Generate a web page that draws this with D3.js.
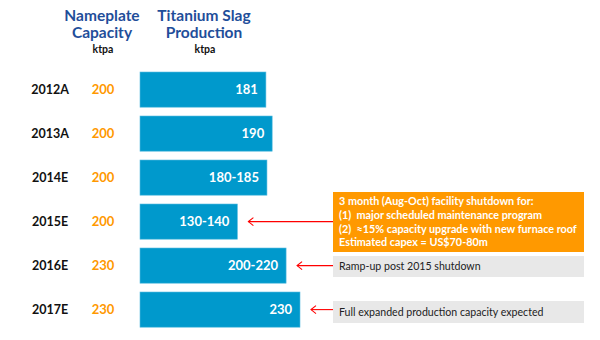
<!DOCTYPE html>
<html>
<head>
<meta charset="utf-8">
<script src="https://cdn.jsdelivr.net/npm/d3@7"></script>
<style>
  html, body { margin: 0; padding: 0; background: #fff; }
  svg { display: block; font-family: Lato, "Open Sans", sans-serif; }
  .note { white-space: pre; }
</style>
</head>
<body>
<svg id="chart" width="600" height="340"></svg>
<script>
// Titanium slag production vs nameplate capacity, ktpa
const years = ["2012A", "2013A", "2014E", "2015E", "2016E", "2017E"];
const capacity = [200, 200, 200, 200, 230, 230];
const production = [181, 190, 182.5, 140, 210, 230];
const productionLabels = ["181", "190", "180-185", "130-140", "200-220", "230"];

// Notes attached to individual years
const noteYears = ["2015E", "2016E", "2017E"];
const noteLines = [
  ["3 month (Aug-Oct) facility shutdown for:",
   "(1)  major scheduled maintenance program",
   "(2)  \u224815% capacity upgrade with new furnace roof",
   "Estimated capex = US$70-80m"],
  ["Ramp-up post 2015 shutdown"],
  ["Full expanded production capacity expected"]
];
const noteKinds = ["highlight", "plain", "plain"];

const svg = d3.select("#chart");

const BLUE = "#0099cc";
const ORANGE = "#ff9900";
const NAVY = "#1f4e9a";
const RED = "#ff0000";

const y = d3.scaleBand().domain(years).range([67.6, 331.6]).paddingInner(0.2).paddingOuter(0.1);
const x = d3.scaleLinear().domain([0, 230]).range([140, 300]);

// Column headers
const headers = [
  { cx: 102, lines: ["Nameplate", "Capacity"] },
  { cx: 204, lines: ["Titanium Slag", "Production"] }
];
headers.forEach(h => {
  h.lines.forEach((t, i) => {
    svg.append("text")
      .attr("x", h.cx).attr("y", 21 + i * 16.5)
      .attr("text-anchor", "middle")
      .attr("font-size", 15.5).attr("font-weight", 700)
      .attr("fill", NAVY).text(t);
  });
  svg.append("text")
    .attr("x", h.cx + 1).attr("y", 53)
    .attr("text-anchor", "middle")
    .attr("font-size", 10.5).attr("font-weight", 700)
    .attr("fill", "#111").text("ktpa");
});

const rows = svg.append("g").selectAll("g")
  .data(years.map((yr, i) => ({ yr, cap: capacity[i], val: production[i], lbl: productionLabels[i] })))
  .join("g");

// Year labels
rows.append("text")
  .attr("x", 50).attr("y", d => y(d.yr) + y.bandwidth() / 2)
  .attr("dy", "0.35em").attr("text-anchor", "middle")
  .attr("font-size", 12.5).attr("font-weight", 700).attr("fill", "#111")
  .text(d => d.yr);

// Nameplate capacity
rows.append("text")
  .attr("x", 103).attr("y", d => y(d.yr) + y.bandwidth() / 2)
  .attr("dy", "0.35em").attr("text-anchor", "middle")
  .attr("font-size", 13).attr("font-weight", 700).attr("fill", ORANGE)
  .text(d => d.cap);

// Production bars
rows.append("rect")
  .attr("x", x(0)).attr("y", d => y(d.yr))
  .attr("width", d => x(d.val) - x(0)).attr("height", y.bandwidth())
  .attr("fill", BLUE).attr("stroke", "#5bbde0").attr("stroke-width", 0.6);

rows.append("text")
  .attr("x", d => x(d.val) - 8).attr("y", d => y(d.yr) + y.bandwidth() / 2)
  .attr("dy", "0.36em").attr("text-anchor", "end")
  .attr("font-size", 13).attr("font-weight", 700).attr("fill", "#fff")
  .text(d => d.lbl);

// Annotation boxes with arrows pointing back at the bars
const boxX = 333, boxW = 251;
const boxes = [
  { top: 192, h: 60 },
  { top: 256, h: 21 },
  { top: 301, h: 22 }
];

noteYears.forEach((yr, i) => {
  const idx = years.indexOf(yr);
  const cy = y(yr) + y.bandwidth() / 2;
  const b = boxes[i];
  const hl = noteKinds[i] === "highlight";

  svg.append("rect")
    .attr("x", boxX).attr("y", b.top).attr("width", boxW).attr("height", b.h)
    .attr("fill", hl ? ORANGE : "#e8e8e8");

  const lh = 13.6;
  const n = noteLines[i].length;
  const midY = b.top + b.h / 2;
  noteLines[i].forEach((t, j) => {
    svg.append("text")
      .attr("class", "note")
      .attr("x", boxX + 6)
      .attr("y", midY + (j - (n - 1) / 2) * lh)
      .attr("dy", "0.35em")
      .attr("font-size", hl ? 10.8 : 10.6).attr("font-weight", hl ? 700 : 400)
      .attr("fill", hl ? "#fff" : "#222")
      .text(t);
  });

  const tip = x(production[idx]) + 11;
  svg.append("line")
    .attr("x1", boxX).attr("x2", tip).attr("y1", cy).attr("y2", cy)
    .attr("stroke", RED).attr("stroke-width", 1.1);
  svg.append("path")
    .attr("d", `M${tip + 5},${cy - 4}L${tip},${cy}L${tip + 5},${cy + 4}`)
    .attr("fill", "none").attr("stroke", RED).attr("stroke-width", 1.1);
});
</script>
</body>
</html>
